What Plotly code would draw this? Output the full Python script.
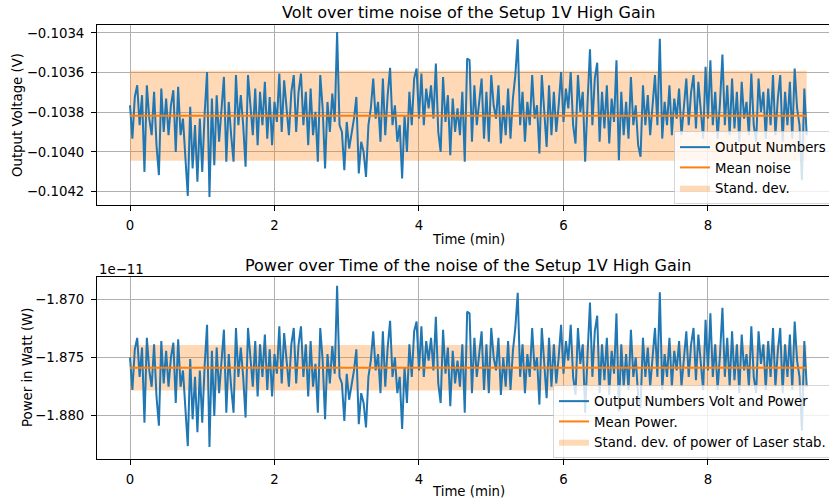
import numpy as np
import plotly.graph_objects as go

# Output voltage samples of the 1V high-gain setup (V), one every 2 s
volt = [
    -0.103765, -0.103933, -0.103723, -0.103664, -0.103865, -0.103714, -0.104101, -0.103664,
    -0.103832, -0.103916, -0.103697, -0.103966, -0.104117, -0.103681, -0.103899, -0.103731,
    -0.103916, -0.103765, -0.103689, -0.104000, -0.103672, -0.103916, -0.103832, -0.104033,
    -0.104222, -0.103773, -0.104084, -0.103865, -0.104151, -0.103832, -0.104101, -0.103807,
    -0.103597, -0.104227, -0.103731, -0.104067, -0.103714, -0.103949, -0.103765, -0.103622,
    -0.104050, -0.103748, -0.103916, -0.104050, -0.103613, -0.103865, -0.103714, -0.103865,
    -0.104075, -0.103613, -0.103765, -0.103916, -0.103681, -0.103966, -0.103697, -0.103865,
    -0.103647, -0.103933, -0.103723, -0.103966, -0.103748, -0.103849, -0.103605, -0.103899,
    -0.103639, -0.103781, -0.103916, -0.103697, -0.103613, -0.103899, -0.103697,
    -0.103605, -0.103865, -0.103697, -0.103966, -0.103681, -0.103916, -0.103798, -0.104050,
    -0.103613, -0.103781, -0.104084, -0.103748, -0.103899, -0.103706, -0.103849, -0.103395,
    -0.103865, -0.103899, -0.104092, -0.103849, -0.103983, -0.103916, -0.103832, -0.103723,
    -0.104109, -0.103949, -0.104000, -0.104126, -0.103865, -0.103781, -0.103630, -0.103832,
    -0.103748, -0.103949, -0.103630, -0.103916, -0.103714, -0.103576, -0.103865, -0.103765,
    -0.103949, -0.103865, -0.104134, -0.103815, -0.104000, -0.103697, -0.103865, -0.103630,
    -0.103580, -0.103832, -0.103605, -0.103865, -0.103681, -0.103781, -0.103664, -0.103832,
    -0.103555, -0.103899, -0.104000, -0.103622, -0.103849, -0.103714, -0.104017, -0.103731,
    -0.103899, -0.103781, -0.103916, -0.103697, -0.104050, -0.103529,
    -0.103538, -0.103949, -0.103664, -0.103865, -0.103748, -0.103630, -0.103933, -0.103697,
    -0.103949, -0.103613, -0.103765, -0.103832, -0.103664, -0.103958, -0.103765, -0.103916,
    -0.103681, -0.103933, -0.103731, -0.103613, -0.103432, -0.103865, -0.103697, -0.103949,
    -0.103748, -0.103865, -0.103613, -0.103832, -0.103765, -0.104008, -0.103613, -0.103781,
    -0.103975, -0.103664, -0.103916, -0.103697, -0.103899, -0.103765, -0.103597, -0.103849,
    -0.103681, -0.103781, -0.103597, -0.103865, -0.103958, -0.103613, -0.103798, -0.103697,
    -0.104050, -0.103748, -0.103482, -0.103865, -0.103630, -0.103550, -0.103949, -0.103697,
    -0.103882, -0.103664, -0.103958, -0.103731, -0.103849, -0.103538, -0.104042, -0.103697,
    -0.103916, -0.103748, -0.103933, -0.103622, -0.103865, -0.103765, -0.103966,
    -0.104025, -0.103664, -0.103865, -0.103714, -0.103916, -0.103765, -0.103613, -0.103865,
    -0.103429, -0.103933, -0.103748, -0.103865, -0.103664, -0.103916, -0.103731, -0.103832,
    -0.103681, -0.103916, -0.103765, -0.103630, -0.103865, -0.103697, -0.103613, -0.103882,
    -0.103647, -0.103815, -0.103933, -0.103571, -0.103832, -0.103538, -0.103865, -0.103697,
    -0.103933, -0.103748, -0.103509, -0.103865, -0.103664, -0.103916, -0.103630, -0.103882,
    -0.103697, -0.103949, -0.103647, -0.103832, -0.103748, -0.103916, -0.103605, -0.103865,
    -0.103949, -0.103630, -0.103798, -0.103697, -0.103933, -0.103681, -0.103865, -0.103613,
    -0.103916, -0.103731, -0.103613, -0.103949, -0.103697, -0.103865, -0.103647, -0.103933,
    -0.103580, -0.103781, -0.103865, -0.104143, -0.103681, -0.103916,
]
SAMPLE_INTERVAL_S = 2.0

# Noise statistics
MEAN_VOLT = -0.103818
STD_VOLT = 0.000227

# Photodiode calibration (W per V and offset) for the power trace
VOLT_TO_WATT = 1.667e-10
WATT_OFFSET = -1.4523e-12
MEAN_POWER = -1.87588e-11
STD_POWER = 1.96e-14
POWER_EXP = 1e-11

volt_ticks = [-0.1034, -0.1036, -0.1038, -0.1040, -0.1042]
volt_tick_text = ["\u22120.1034", "\u22120.1036", "\u22120.1038", "\u22120.1040", "\u22120.1042"]
power_ticks = [-1.870, -1.875, -1.880]
power_tick_text = ["\u22121.870", "\u22121.875", "\u22121.880"]
time_ticks = [0, 2, 4, 6, 8]

BLUE = "#1f77b4"
ORANGE = "#ff7f0e"
BAND = "rgba(255,127,14,0.3)"
FONT = "DejaVu Sans"
FS = 13.3      # tick, label and legend text
FS_TITLE = 16  # panel titles

volt = np.array(volt)
t_min = np.arange(len(volt)) * SAMPLE_INTERVAL_S / 60.0
power = (VOLT_TO_WATT * volt + WATT_OFFSET) / POWER_EXP
t0, t1 = t_min[0], t_min[-1]

fig = go.Figure()

# --- Voltage panel ---
fig.add_trace(go.Scatter(
    x=[t0, t1, t1, t0, t0],
    y=[MEAN_VOLT + STD_VOLT, MEAN_VOLT + STD_VOLT, MEAN_VOLT - STD_VOLT, MEAN_VOLT - STD_VOLT, MEAN_VOLT + STD_VOLT],
    fill="toself", fillcolor=BAND, line=dict(width=0), mode="lines",
    name="Stand. dev.", legendrank=3, xaxis="x", yaxis="y", legend="legend", hoverinfo="skip"))
fig.add_trace(go.Scatter(
    x=t_min, y=volt, mode="lines", line=dict(color=BLUE, width=2),
    name="Output Numbers", legendrank=1, xaxis="x", yaxis="y", legend="legend"))
fig.add_trace(go.Scatter(
    x=[t0, t1], y=[MEAN_VOLT, MEAN_VOLT], mode="lines", line=dict(color=ORANGE, width=2),
    name="Mean noise", legendrank=2, xaxis="x", yaxis="y", legend="legend"))

# --- Power panel ---
pm = MEAN_POWER / POWER_EXP
ps = STD_POWER / POWER_EXP
fig.add_trace(go.Scatter(
    x=[t0, t1, t1, t0, t0],
    y=[pm + ps, pm + ps, pm - ps, pm - ps, pm + ps],
    fill="toself", fillcolor=BAND, line=dict(width=0), mode="lines",
    name="Stand. dev. of power of Laser stab.", legendrank=3, xaxis="x2", yaxis="y2",
    legend="legend2", hoverinfo="skip"))
fig.add_trace(go.Scatter(
    x=t_min, y=power, mode="lines", line=dict(color=BLUE, width=2),
    name="Output Numbers Volt and Power", legendrank=1, xaxis="x2", yaxis="y2", legend="legend2"))
fig.add_trace(go.Scatter(
    x=[t0, t1], y=[pm, pm], mode="lines", line=dict(color=ORANGE, width=2),
    name="Mean Power.", legendrank=2, xaxis="x2", yaxis="y2", legend="legend2"))

W, H = 829, 504
left_px = 97
x_range = [-0.4567, 9.675]

axis_common = dict(
    showline=True, linecolor="black", linewidth=1,
    ticks="outside", ticklen=5, tickwidth=1, tickcolor="black",
    showgrid=True, gridcolor="#b0b0b0", gridwidth=1, zeroline=False,
    tickfont=dict(family=FONT, size=FS, color="black"),
)
legend_common = dict(
    xanchor="left", yanchor="top",
    bgcolor="rgba(255,255,255,0.8)", bordercolor="rgba(204,204,204,0.8)",
    borderwidth=1, font=dict(family=FONT, size=FS, color="black"),
    traceorder="normal", itemwidth=30,
)

fig.update_layout(
    width=W, height=H,
    margin=dict(l=0, r=0, t=0, b=0, autoexpand=False),
    paper_bgcolor="white", plot_bgcolor="white",
    font=dict(family=FONT, color="black"),
    xaxis=dict(domain=[left_px / W, 1.0], range=x_range, anchor="y",
               tickvals=time_ticks, mirror=True, ticklabelstandoff=3, **axis_common),
    yaxis=dict(domain=[1 - 205 / H, 1 - 25 / H], range=[-0.104268, -0.10336], anchor="x",
               tickvals=volt_ticks, ticktext=volt_tick_text, mirror=False,
               ticklabelstandoff=4, **axis_common),
    xaxis2=dict(domain=[left_px / W, 1.0], range=x_range, anchor="y2",
                tickvals=time_ticks, mirror=True, ticklabelstandoff=3, **axis_common),
    yaxis2=dict(domain=[1 - 459 / H, 1 - 277 / H], range=[-1.88372, -1.86808], anchor="x2",
                tickvals=power_ticks, ticktext=power_tick_text, mirror=False,
                ticklabelstandoff=4, **axis_common),
    legend=dict(x=674 / W, y=1 - 131 / H, **legend_common),
    legend2=dict(x=553 / W, y=1 - 385 / H, **legend_common),
    showlegend=True,
)

cx = 468 / W
annotations = [
    dict(text="Volt over time noise of the Setup 1V High Gain", x=cx, y=1 - 12 / H,
         font=dict(size=FS_TITLE, family=FONT)),
    dict(text="Power over Time of the noise of the Setup 1V High Gain", x=cx, y=1 - 265 / H,
         font=dict(size=FS_TITLE, family=FONT)),
    dict(text="Time (min)", x=cx, y=1 - 239 / H, font=dict(size=FS, family=FONT)),
    dict(text="Time (min)", x=cx, y=1 - 491 / H, font=dict(size=FS, family=FONT)),
    dict(text="Output Voltage (V)", x=18 / W, y=1 - 115 / H, textangle=-90,
         font=dict(size=FS, family=FONT)),
    dict(text="Power in Watt (W)", x=27 / W, y=1 - 368 / H, textangle=-90,
         font=dict(size=FS, family=FONT)),
    dict(text="1e\u221211", x=left_px / W, y=1 - 269 / H, xanchor="left",
         font=dict(size=FS, family=FONT)),
]
for a in annotations:
    a.setdefault("xanchor", "center")
    fig.add_annotation(xref="paper", yref="paper", showarrow=False, yanchor="middle",
                       font_color="black", **a)

fig.write_html("out.html")
